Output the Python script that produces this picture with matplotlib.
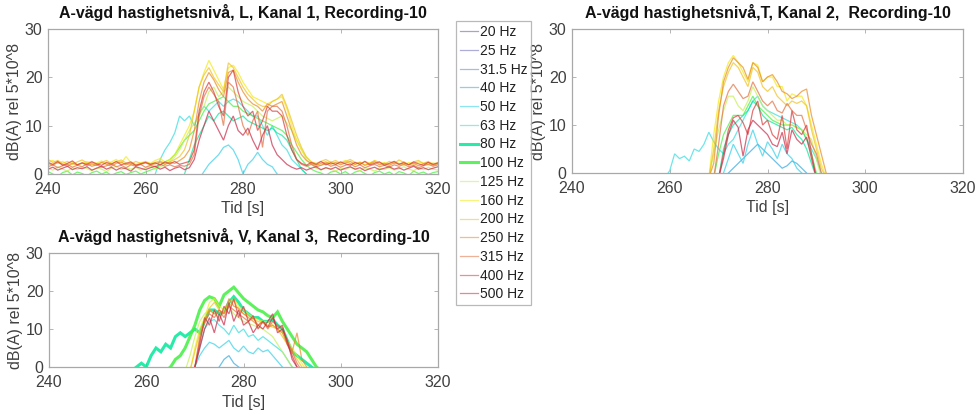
import numpy as np
import matplotlib
matplotlib.use("Agg")
import matplotlib.pyplot as plt
from matplotlib.lines import Line2D

plt.rcParams["font.family"] = ["Liberation Sans", "DejaVu Sans"]

# Third-octave bands and their line colours
bands = ["20 Hz", "25 Hz", "31.5 Hz", "40 Hz", "50 Hz", "63 Hz", "80 Hz", "100 Hz",
         "125 Hz", "160 Hz", "200 Hz", "250 Hz", "315 Hz", "400 Hz", "500 Hz"]
band_colors = ["#5a5aa8", "#6a6ab8", "#5a8ac8", "#30a8e0", "#30d0e8", "#30dce0",
               "#00e89a", "#40f040", "#c4f050", "#f2ea10", "#f0c020", "#e88a20",
               "#e07040", "#d83838", "#c82848"]

# ---------------- Kanal 1 (L): levels per second, dB(A) ----------------
l_start = {"50 Hz": 271, "63 Hz": 262, "80 Hz": 268, "100 Hz": 240, "125 Hz": 240,
           "160 Hz": 240, "200 Hz": 240, "250 Hz": 240, "315 Hz": 240,
           "400 Hz": 240, "500 Hz": 240}
l_50 = [-1, 0.5, 2.0, 3.0, 4.0, 5.5, 6.0, 5.0, 3.0, 0.0, 2.0, 3.0, 4.5, 3.0, 2.0, 1.5, 0.0, -1]
l_63 = [0.0, 3.0, 5.0, 6.5, 8.5, 12.0, 11.0, 12.0, 10.0, 12.5, 14.0, 13.0, 14.0, 15.0, 14.0,
        15.0, 15.5, 15.0, 14.0, 13.0, 12.0, 12.0, 10.0, 8.0, 10.0, 8.0, 6.0, 5.0, 3.0, 2.0,
        1.0, 0.0]
l_80 = [0.0, 3.0, 6.0, 8.0, 10.0, 12.0, 11.0, 12.5, 13.0, 12.0, 11.0, 11.5, 12.0, 11.0,
        10.5, 10.0, 9.5, 9.0, 9.5, 8.5, 8.0, 7.0, 5.0, 3.0, 1.0, 0.0]
l_100 = [0.5, 0.0, -0.5, 0.3, 0.6, -0.2, 0.4, 0.1, -0.4, 0.3,
         0.6, 0.0, 0.4, -0.3, 0.2, 0.5, -0.1, 0.3, 0.6, 0.0,
         0.4, 0.8, 1.2, 1.8, 2.5, 3.0, 4.0, 5.5, 7.0, 8.0,
         9.0, 11.0, 13.0, 14.5, 15.0, 15.5, 16.0, 15.0, 14.0, 14.0,
         13.0, 12.5, 12.0, 11.5, 11.0, 10.5, 10.0, 9.5, 9.0, 8.0,
         6.0, 4.5, 3.0, 1.8, 1.0, 0.5, 0.2, -0.3, 0.4, 0.6,
         0.0, 0.5, -0.2, 0.4, 0.7, 0.1, -0.4, 0.3, 0.6, 0.0,
         0.4, -0.2, 0.5, 0.2, -0.3, 0.6, 0.1, 0.4, -0.1, 0.3, 0.5]
l_125 = [1.2, 0.8, 1.5, 1.0, 0.6, 1.3, 0.9, 1.4, 1.1, 0.7,
         1.3, 1.0, 0.5, 1.2, 1.6, 0.9, 1.3, 1.0, 1.4, 0.8,
         1.2, 1.6, 1.0, 1.4, 2.0, 2.6, 3.5, 5.0, 7.0, 9.0,
         10.5, 12.0, 14.0, 17.0, 18.0, 16.0, 17.0, 18.0, 17.0, 16.0,
         15.0, 14.5, 14.0, 13.0, 12.0, 11.5, 11.0, 11.5, 12.0, 10.5,
         9.0, 7.0, 5.0, 3.0, 2.0, 1.2, 0.8, 1.3, 1.0, 0.6,
         1.2, 0.9, 1.4, 1.0, 0.7, 1.3, 1.0, 0.6, 1.2, 0.9,
         1.3, 0.8, 1.1, 1.5, 1.0, 0.7, 1.2, 0.9, 1.4, 1.0, 0.8]
l_160 = [2.5, 2.8, 2.2, 2.6, 2.0, 2.4, 1.8, 2.2, 2.6, 2.0,
         2.3, 2.7, 2.1, 2.5, 3.0, 2.2, 3.6, 2.4, 2.0, 2.3,
         2.6, 2.2, 2.8, 3.2, 2.5, 3.0, 4.0, 6.0, 8.0, 10.0,
         13.0, 18.0, 21.0, 23.5, 21.5, 19.5, 17.5, 22.0, 22.5, 21.0,
         19.0, 17.5, 16.0, 15.5, 15.0, 14.5, 15.0, 15.5, 16.0, 13.5,
         10.0, 7.0, 5.0, 3.5, 2.5, 2.0, 1.8, 2.2, 2.6, 2.0,
         2.4, 2.8, 2.2, 2.0, 2.5, 1.9, 2.3, 2.7, 2.1, 2.4,
         2.0, 2.6, 2.2, 1.8, 2.4, 2.0, 2.5, 2.2, 1.9, 2.3, 2.0]
l_200 = [3.0, 2.4, 2.8, 2.2, 2.6, 2.0, 2.5, 2.9, 2.3, 2.6,
         2.0, 2.4, 2.8, 2.2, 2.5, 2.9, 2.3, 2.0, 2.6, 2.2,
         2.5, 2.1, 2.4, 2.7, 2.2, 2.5, 3.0, 3.6, 5.0, 8.0,
         13.0, 18.0, 20.5, 22.0, 20.0, 18.5, 17.0, 23.0, 22.0, 20.0,
         18.0, 16.5, 15.5, 14.5, 14.0, 14.0, 15.0, 15.5, 16.5, 14.0,
         11.0, 8.0, 5.5, 3.5, 2.5, 2.2, 2.6, 3.0, 2.4, 2.8,
         2.2, 2.6, 3.0, 2.4, 2.0, 2.6, 2.2, 2.8, 2.4, 2.0,
         2.6, 2.2, 2.9, 2.4, 2.0, 2.5, 2.8, 2.2, 2.6, 2.0, 2.4]
l_250 = [2.2, 1.8, 2.4, 2.0, 1.6, 2.2, 1.9, 2.3, 1.7, 2.1,
         1.8, 2.4, 2.0, 1.6, 2.2, 2.5, 1.9, 2.2, 1.8, 2.0,
         2.3, 1.9, 2.1, 2.5, 2.0, 2.4, 2.2, 2.8, 3.5, 5.0,
         9.0, 15.0, 19.0, 21.0, 19.5, 17.5, 16.0, 21.0, 21.5, 19.0,
         17.0, 15.5, 14.5, 14.0, 13.0, 14.5, 14.0, 14.5, 15.0, 12.0,
         9.0, 6.0, 4.0, 2.8, 2.2, 1.8, 2.2, 2.5, 2.0, 2.4,
         1.9, 2.3, 2.6, 2.0, 2.4, 1.8, 2.1, 2.5, 1.9, 2.2,
         1.8, 2.3, 2.0, 2.5, 1.9, 2.2, 1.7, 2.1, 2.4, 1.8, 2.2]
l_315 = [1.5, 1.9, 1.3, 1.7, 2.0, 1.4, 1.8, 1.5, 2.1, 1.6,
         1.9, 1.4, 1.7, 2.1, 1.5, 1.8, 1.3, 1.9, 1.6, 2.0,
         1.4, 1.8, 1.5, 2.0, 1.6, 1.9, 1.5, 1.8, 1.6, 2.0,
         4.0, 12.0, 16.0, 18.0, 16.5, 15.0, 10.0, 19.0, 18.0, 14.0,
         10.0, 8.0, 11.0, 13.0, 5.5, 13.0, 14.0, 14.0, 13.0, 10.0,
         6.0, 3.0, 2.0, 1.6, 2.0, 1.5, 1.8, 2.2, 1.6, 1.9,
         1.4, 1.8, 2.1, 1.5, 1.9, 1.3, 1.7, 2.0, 1.5, 1.8,
         1.4, 1.9, 1.6, 2.0, 1.5, 1.8, 1.3, 1.7, 2.0, 1.6, 1.9]
l_400 = [2.4, 2.0, 2.6, 1.8, 2.2, 2.7, 1.9, 2.3, 2.0, 2.5,
         2.1, 1.8, 2.4, 2.0, 2.6, 1.9, 2.2, 2.5, 1.8, 2.1,
         2.4, 2.0, 2.3, 1.9, 2.5, 2.1, 2.6, 2.0, 2.3, 2.6,
         5.0, 13.0, 17.0, 19.0, 17.0, 14.0, 12.0, 20.0, 21.5, 17.0,
         14.0, 12.0, 13.0, 9.0, 11.0, 14.0, 13.0, 13.0, 12.0, 8.0,
         5.0, 3.0, 2.2, 1.8, 2.4, 2.0, 2.6, 1.9, 2.3, 2.0,
         2.5, 2.1, 1.8, 2.4, 2.0, 2.6, 1.9, 2.2, 2.5, 1.8,
         2.2, 2.6, 2.0, 2.3, 1.9, 2.5, 2.1, 1.8, 2.4, 2.0, 2.3]
l_500 = [1.0, 1.4, 0.8, 1.2, 1.6, 0.9, 1.3, 1.1, 1.5, 0.8,
         1.2, 1.6, 1.0, 1.4, 0.8, 1.3, 1.1, 0.6, 1.5, 1.2,
         0.9, 1.3, 1.6, 1.0, 1.4, 0.7, 1.2, 1.5, 0.9, 1.3,
         3.0, 7.0, 10.0, 13.0, 11.0, 9.0, 7.0, 10.0, 12.0, 9.0,
         8.0, 9.5, 7.0, 5.0, 8.0, 10.0, 6.0, 4.0, 3.0, 2.0,
         1.4, 1.0, 1.3, 0.8, 1.2, 1.5, 0.9, 1.3, 1.0, 1.4,
         0.8, 1.2, 1.5, 1.0, 1.3, 0.7, 1.1, 1.4, 0.9, 1.2,
         1.5, 1.0, 1.3, 0.8, 1.2, 1.6, 1.0, 1.3, 0.9, 1.2, 1.5]

# ---------------- Kanal 2 (T) ----------------
t_start = {"40 Hz": 271, "50 Hz": 270, "63 Hz": 259, "80 Hz": 270, "100 Hz": 269,
           "125 Hz": 268, "160 Hz": 268, "200 Hz": 268, "250 Hz": 268,
           "315 Hz": 269, "400 Hz": 270, "500 Hz": 270}
t_40 = [-1, 0, 1, 2, 3, 4, 5, 6, 5, 4, 3, 2, 1, 1.5, 2.5, 2, 1, 0, -1]
t_50 = [-1, 0, 3, 6, 4, 2, 6, 9, 6, 3.5, 6.5, 5, 3, 6, 4, 3, 1, 0, -1]
t_63 = [-1, 0.5, 4, 3, 3.5, 2.5, 5, 4.5, 6, 8.5, 6.5, 5, 4, 6, 7, 9, 11, 13, 15, 16,
        14, 13, 12.5, 12, 11.5, 11, 10.5, 10, 9, 7, 5, 3, 0, -1]
t_80 = [-1, 5, 8, 10, 11, 12, 13, 15, 14, 12, 11, 10.5, 10, 9.5, 9, 9.5, 8, 7, 5, 2, -1]
t_100 = [-1, 4, 8, 10, 12, 12, 12, 14, 16, 14, 13, 12, 11, 10.5, 10, 10, 10, 9.5, 9,
         7, 4, 0, -1]
t_125 = [-1, 4, 9, 13, 16, 16, 14, 13, 15, 18, 16, 14, 13, 12, 11, 11, 10, 10, 9.5, 9,
         8, 7, 3, -1]
t_160 = [-1, 8, 15, 20, 23, 24.5, 23, 21, 19, 23, 22.5, 19, 20, 20, 18, 18, 15, 16.5,
         16, 16, 14, 10, 6, 2, -1]
t_200 = [-1, 5, 13, 18, 21, 23, 22, 20, 18, 22, 21, 18, 17, 18, 16, 15, 14, 15, 14.5,
         15, 14, 9, 5, 1, -1]
t_250 = [-1, 2, 12, 19, 22, 24, 23, 22, 19.5, 23, 22, 19, 20, 20.5, 19, 17, 16.5, 15.5,
         16, 17, 17.5, 12, 8, 4, 0, -1]
t_315 = [-1, 6, 14, 17, 18.5, 17, 15.5, 16, 19, 17, 15, 14, 15, 13, 12.5, 14.5, 13, 12,
         12, 9, 6, 4, 0, -1]
t_400 = [-1, 4, 9, 11.5, 12, 10.5, 8, 13, 15, 10, 11, 8, 7, 12, 5, 13, 9, 8, 10, 4, -1]
t_500 = [-1, 3, 8, 11, 9.5, 3.5, 9, 11, 10, 9, 8, 6, 5.5, 8.5, 4, 9, 7, 6, 7.5, 3, -1]

# ---------------- Kanal 3 (V) ----------------
v_start = {"40 Hz": 274, "50 Hz": 269, "63 Hz": 269, "80 Hz": 257, "100 Hz": 264,
           "125 Hz": 268, "160 Hz": 269, "200 Hz": 269, "250 Hz": 269,
           "315 Hz": 269, "400 Hz": 269, "500 Hz": 269}
v_40 = [-1, 0, 2, 3, 1, 0, -1]
v_50 = [-1, 0, 3, 5, 6.5, 6, 5, 6, 7, 5, 4, 5.5, 4, 3.5, 5, 4, 4.5, 3, 1.5, 0, -1]
v_63 = [-1, 0, 5, 10, 12, 12.5, 11, 10, 8.5, 11, 9, 10, 8, 8.5, 7, 8, 7, 6, 5, 4, 2, 0, -1]
v_80 = [-1, 0, 1, 0, 3, 5, 4, 6, 5, 8, 9, 8, 9, 10, 9, 12, 15, 15, 14, 14.5, 17, 18.5,
        17, 15, 14, 13, 13, 12, 12, 12.5, 11, 10, 7, 4, 3, 2, 1, 0, -1]
v_100 = [-1, 0, 2, 3, 5, 8, 11, 15, 17.5, 18.5, 18, 16, 19, 20, 21, 19.5, 18, 17, 16, 15,
         14.5, 13.5, 13, 14.5, 12, 10, 8, 6, 5, 4, 2, 0, -1]
v_125 = [-1, 3, 8, 12, 14, 15, 14, 13, 15, 16, 14, 13, 12, 11.5, 11, 10.5, 10, 9, 8, 6,
         4, 2, 0, -1]
v_160 = [-1, 5, 10, 13, 17, 18, 16, 15, 17, 18, 16, 15, 14, 13, 12.5, 12, 12, 11, 10, 9,
         7, 5, 3, 1, -1]
v_200 = [-1, 4, 9, 12, 15.5, 17, 15, 14, 16, 17.5, 15, 14, 13.5, 12.5, 12, 11.5, 11, 10.5,
         10, 8, 6, 4, 2, 0, -1]
v_250 = [-1, 0, 8, 12, 15, 14, 15, 14, 18, 16, 15.5, 14, 13, 12, 11, 12, 10.5, 11, 10, 9,
         6, 4, 9, 2, 0, -1]
v_315 = [-1, 0, 7, 12, 14, 13, 15, 13, 16, 15, 14, 13, 12, 13, 11, 12, 10, 12, 11, 10,
         7, 4, 1, -1]
v_400 = [-1, 0, 6, 13, 11, 15, 12, 16, 14, 18, 13, 16, 12, 13.5, 10, 12, 10.5, 13, 10, 11,
         6, 3, 0, -1]
v_500 = [-1, 0, 5, 10, 13, 9, 14, 11, 17, 12, 15, 11, 12, 9, 11, 10, 12, 14, 9, 10, 7, 2,
         0, -1]

titles = ["A-vägd hastighetsnivå, L, Kanal 1, Recording-10",
          "A-vägd hastighetsnivå,T, Kanal 2,  Recording-10",
          "A-vägd hastighetsnivå, V, Kanal 3,  Recording-10"]
x_ticks = [240, 260, 280, 300, 320]
y_ticks = [0, 10, 20, 30]

channels = [
    (l_start, {"50 Hz": l_50, "63 Hz": l_63, "80 Hz": l_80, "100 Hz": l_100,
               "125 Hz": l_125, "160 Hz": l_160, "200 Hz": l_200, "250 Hz": l_250,
               "315 Hz": l_315, "400 Hz": l_400, "500 Hz": l_500}, set()),
    (t_start, {"40 Hz": t_40, "50 Hz": t_50, "63 Hz": t_63, "80 Hz": t_80,
               "100 Hz": t_100, "125 Hz": t_125, "160 Hz": t_160, "200 Hz": t_200,
               "250 Hz": t_250, "315 Hz": t_315, "400 Hz": t_400, "500 Hz": t_500}, set()),
    (v_start, {"40 Hz": v_40, "50 Hz": v_50, "63 Hz": v_63, "80 Hz": v_80,
               "100 Hz": v_100, "125 Hz": v_125, "160 Hz": v_160, "200 Hz": v_200,
               "250 Hz": v_250, "315 Hz": v_315, "400 Hz": v_400, "500 Hz": v_500},
     {"80 Hz", "100 Hz"}),
]

W, H = 978, 412
fig = plt.figure(figsize=(W / 100, H / 100), dpi=100)


def px_axes(left, top, right, bottom):
    return fig.add_axes([left / W, 1 - bottom / H, (right - left) / W, (bottom - top) / H])


axes = [px_axes(48, 29, 438, 174), px_axes(572, 29, 963, 173), px_axes(49, 253, 438, 367)]

tick_color = "#404040"
spine_color = "#a8a8a8"

for ax, title, (starts, series, thick) in zip(axes, titles, channels):
    for band, color in zip(bands, band_colors):
        if band not in series:
            continue
        vals = np.asarray(series[band], dtype=float)
        t = starts[band] + np.arange(len(vals))
        lw = 2.2 if band in thick else 0.9
        alpha = 0.85 if band in thick else 0.7
        ax.plot(t, vals, color=color, lw=lw, alpha=alpha, solid_joinstyle="miter")
    ax.set_xlim(240, 320)
    ax.set_ylim(0, 30)
    ax.set_xticks(x_ticks)
    ax.set_yticks(y_ticks)
    ax.tick_params(direction="in", length=3, width=0.6, color=spine_color,
                   labelcolor=tick_color, labelsize=11.5, top=True, right=True)
    ax.tick_params(axis="x", pad=6)
    ax.tick_params(axis="y", pad=4)
    for sp in ax.spines.values():
        sp.set_color(spine_color)
        sp.set_linewidth(0.9)
    ax.set_title(title, fontsize=11.5, fontweight="bold", color="#111111", pad=8)
    ax.set_xlabel("Tid [s]", fontsize=11.5, color=tick_color, labelpad=3)
    ax.set_ylabel("dB(A) rel 5*10^8", fontsize=11.5, color=tick_color, labelpad=2)

handles = []
for band, color in zip(bands, band_colors):
    thick = band in channels[2][2]
    handles.append(Line2D([], [], color=color, lw=2.2 if thick else 0.9,
                          alpha=0.85 if thick else 0.55))
leg = fig.legend(handles, bands, loc="upper left", bbox_to_anchor=(456 / W, 1 - 21 / H),
                 fontsize=10, frameon=True, fancybox=False, edgecolor="#a8a8a8",
                 handlelength=1.3, handletextpad=0.1, borderpad=0.3, labelspacing=0.34,
                 borderaxespad=0)
leg.get_frame().set_linewidth(0.9)
for txt in leg.get_texts():
    txt.set_color("#202020")

fig.savefig("out.png", dpi=100, facecolor="white")
